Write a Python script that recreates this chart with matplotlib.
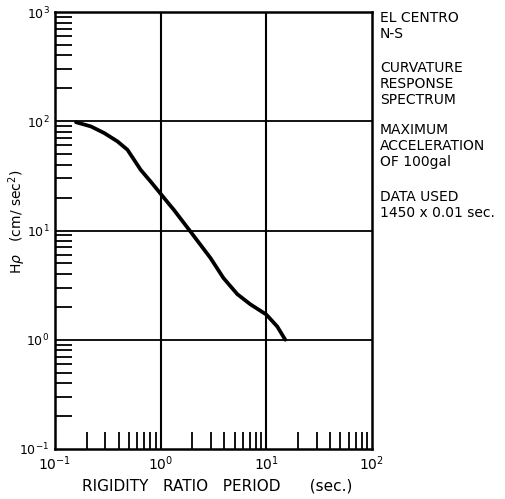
import matplotlib
matplotlib.use("Agg")
import matplotlib.pyplot as plt
from matplotlib.ticker import LogLocator, NullFormatter, FixedLocator

# curvature response spectrum, El Centro N-S
period = [0.158, 0.219, 0.292, 0.391, 0.485, 0.56, 0.647, 0.805, 0.98, 1.24,
          1.33, 1.88, 2.96, 3.93, 5.32, 7.06, 10.0, 12.7, 15.1]
h_rho = [98, 89.6, 78, 65.3, 54.8, 44.4, 35.9, 28, 22.2, 16.8,
         15.5, 10, 5.6, 3.67, 2.61, 2.11, 1.70, 1.32, 1.0]

x_ticks = [0.1, 1, 10, 100]
x_labels = ["$10^{-1}$", "$10^{0}$", "$10^{1}$", "$10^{2}$"]
y_ticks = [0.1, 1, 10, 100, 1000]
y_labels = ["$10^{-1}$", "$10^{0}$", "$10^{1}$", "$10^{2}$", "$10^{3}$"]

notes = [
    (18, "EL CENTRO"), (34, "N-S"),
    (68, "CURVATURE"), (84, "RESPONSE"), (100, "SPECTRUM"),
    (130, "MAXIMUM"), (146, "ACCELERATION"), (162, "OF 100gal"),
    (197, "DATA USED"), (213, "1450 x 0.01 sec."),
]

plt.rcParams["font.family"] = ["DejaVu Sans"]
plt.rcParams["mathtext.fontset"] = "dejavusans"

W, H = 505, 499
fig = plt.figure(figsize=(W / 100, H / 100), dpi=100)
ax = fig.add_axes([55 / W, 1 - 449 / H, (372 - 55) / W, (449 - 12) / H])

ax.plot(period, h_rho, color="black", lw=2.7, solid_capstyle="round",
        solid_joinstyle="round")

ax.set_xscale("log")
ax.set_yscale("log")
ax.set_xlim(0.1, 100)
ax.set_ylim(0.1, 1000)

ax.xaxis.set_major_locator(FixedLocator(x_ticks))
ax.set_xticklabels(x_labels)
ax.yaxis.set_major_locator(FixedLocator(y_ticks))
ax.set_yticklabels(y_labels)
ax.xaxis.set_minor_locator(LogLocator(base=10, subs=range(2, 10)))
ax.yaxis.set_minor_locator(LogLocator(base=10, subs=range(2, 10)))
ax.xaxis.set_minor_formatter(NullFormatter())
ax.yaxis.set_minor_formatter(NullFormatter())

ax.tick_params(which="major", length=0, labelsize=10, pad=4)
ax.tick_params(axis="y", which="major", pad=4, labelsize=9)
ax.tick_params(which="minor", direction="in", length=12, width=1.3, color="black")
ax.tick_params(axis="x", which="minor", top=False)
ax.tick_params(axis="y", which="minor", right=False)

for v in [1, 10]:
    ax.axvline(v, color="black", lw=1.5)
for v in [1, 10, 100]:
    ax.axhline(v, color="black", lw=1.3)

for s in ax.spines.values():
    s.set_linewidth(1.8)

ax.set_xlabel("RIGIDITY   RATIO   PERIOD      (sec.)", fontsize=11, va="center")
ax.xaxis.set_label_coords(0.513, -0.085)
ax.set_ylabel(r"H$\rho$   (cm/ sec$^2$)", fontsize=10, va="center")
ax.yaxis.set_label_coords(-0.12, 0.52)

for y, t in notes:
    fig.text(380 / W, 1 - y / H, t, fontsize=10, va="center", ha="left")

fig.savefig("out.png", dpi=100)
